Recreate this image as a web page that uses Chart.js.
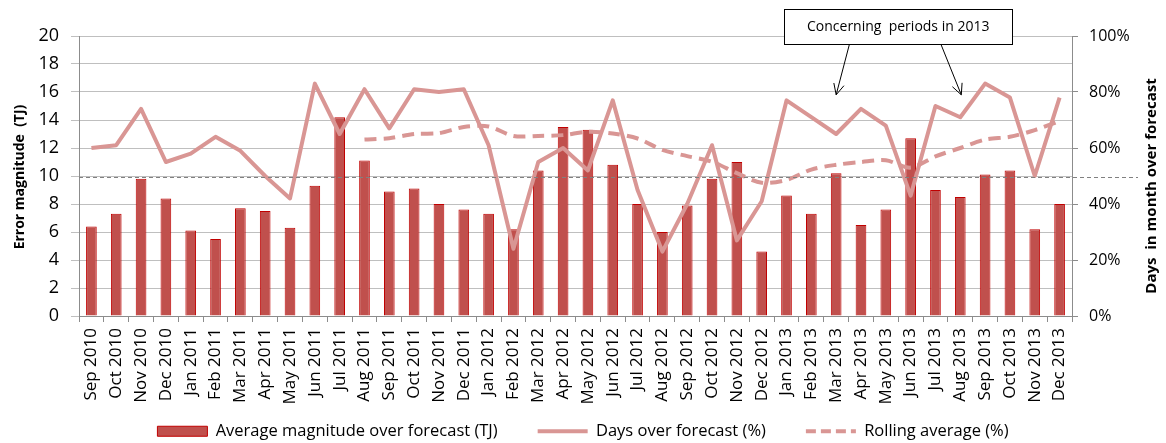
<!DOCTYPE html>
<html>
<head>
<meta charset="utf-8">
<script src="https://cdn.jsdelivr.net/npm/chart.js@4"></script>
<style>
  html, body { margin: 0; padding: 0; background: #fff; }
</style>
</head>
<body>
<canvas id="chart" width="1166" height="443"></canvas>
<script>
// ===============================
// DATA
// ===============================
const months = [
  "Sep 2010", "Oct 2010", "Nov 2010", "Dec 2010",
  "Jan 2011", "Feb 2011", "Mar 2011", "Apr 2011", "May 2011", "Jun 2011",
  "Jul 2011", "Aug 2011", "Sep 2011", "Oct 2011", "Nov 2011", "Dec 2011",
  "Jan 2012", "Feb 2012", "Mar 2012", "Apr 2012", "May 2012", "Jun 2012",
  "Jul 2012", "Aug 2012", "Sep 2012", "Oct 2012", "Nov 2012", "Dec 2012",
  "Jan 2013", "Feb 2013", "Mar 2013", "Apr 2013", "May 2013", "Jun 2013",
  "Jul 2013", "Aug 2013", "Sep 2013", "Oct 2013", "Nov 2013", "Dec 2013"
];

// average magnitude over forecast (TJ)
const magnitude = [
  6.4, 7.3, 9.8, 8.4,
  6.1, 5.5, 7.7, 7.5, 6.3, 9.3,
  14.2, 11.1, 8.9, 9.1, 8.0, 7.6,
  7.3, 6.2, 10.4, 13.5, 13.3, 10.8,
  8.0, 6.0, 7.9, 9.8, 11.0, 4.6,
  8.6, 7.3, 10.2, 6.5, 7.6, 12.7,
  9.0, 8.5, 10.1, 10.4, 6.2, 8.0
];

// days in month over forecast (%)
const daysOver = [
  60, 61, 74, 55,
  58, 64, 59, 50, 42, 83,
  65, 81, 67, 81, 80, 81,
  61, 24, 55, 60, 52, 77,
  45, 23, 40, 61, 27, 41,
  77, 71, 65, 74, 68, 43,
  75, 71, 83, 78, 50, 78
];

// 12 month rolling average of daysOver (%)
const rolling = [
  null, null, null, null,
  null, null, null, null, null, null,
  null, 63, 63.5, 65, 65.3, 67.5,
  67.7, 64.3, 64.3, 64.6, 65.8, 65.2,
  63.4, 59.3, 57.1, 55.1, 51, 47.6,
  48.6, 52.3, 54, 55, 55.6, 53,
  57, 60, 63, 64, 66.4, 69.6
];

const threshold = 9.9;
const leftTicks = [0, 2, 4, 6, 8, 10, 12, 14, 16, 18, 20];
const rightTicks = [0, 20, 40, 60, 80, 100];

const note = "Concerning  periods in 2013";
const noteMonths = ["Mar 2013", "Aug 2013"];

// ===============================
// STYLE
// ===============================
const FONT = "'Open Sans'";
const BAR_FILL = "#C0504D";
const BAR_EDGE = "#C00000";
const LINE = "#D99694";
const GRID = "#BFBFBF";
const AXIS = "#8C8C8C";

Chart.defaults.font.family = FONT;
Chart.defaults.color = "#000";

// axis titles, threshold line and the 2013 callout
const extras = {
  id: "extras",
  afterLayout(chart) {
    // let the rotated month labels run past the axis box
    chart.scales.x.bottom = chart.height;
  },
  afterDatasetsDraw(chart) {
    const { ctx, chartArea, scales } = chart;
    const y = Math.round(scales.y.getPixelForValue(threshold)) + 0.5;
    ctx.save();
    ctx.strokeStyle = "#808080";
    ctx.lineWidth = 1;
    ctx.setLineDash([4, 3]);
    ctx.beginPath();
    ctx.moveTo(chartArea.left, y);
    ctx.lineTo(chartArea.right + 66, y);
    ctx.stroke();
    ctx.restore();
  },
  afterDraw(chart) {
    const { ctx, scales } = chart;

    // axis titles (both read bottom to top)
    const vtitle = (text, size, x, y) => {
      ctx.save();
      ctx.fillStyle = "#000";
      ctx.font = `bold ${size}px ${FONT}`;
      ctx.textAlign = "center";
      ctx.textBaseline = "middle";
      ctx.translate(x, y);
      ctx.rotate(-Math.PI / 2);
      ctx.fillText(text, 0, 0);
      ctx.restore();
    };
    vtitle("Error magnitude  (TJ)", 14, 20, 177);
    vtitle("Days  in month over forecast", 15, 1152, 186);

    // callout box
    const xa = scales.x.getPixelForValue(noteMonths[0]);
    const xb = scales.x.getPixelForValue(noteMonths[1]);
    const cx = (xa + xb) / 2;
    const boxW = 228, boxH = 35, boxTop = 9;
    const boxLeft = Math.round(cx - boxW / 2) + 0.5;
    ctx.save();
    ctx.fillStyle = "#fff";
    ctx.strokeStyle = "#000";
    ctx.lineWidth = 1;
    ctx.fillRect(boxLeft, boxTop + 0.5, boxW, boxH);
    ctx.strokeRect(boxLeft, boxTop + 0.5, boxW, boxH);
    ctx.fillStyle = "#000";
    ctx.font = `14px ${FONT}`;
    ctx.textAlign = "center";
    ctx.textBaseline = "middle";
    ctx.fillText(note, cx, boxTop + boxH / 2 + 1);

    // arrows down to the two months
    const tipY = scales.y1.getPixelForValue(79);
    const arrow = (x0, y0, x1, y1) => {
      ctx.beginPath();
      ctx.moveTo(x0, y0);
      ctx.lineTo(x1, y1);
      const a = Math.atan2(y1 - y0, x1 - x0);
      const len = 12, spread = 0.45;
      ctx.moveTo(x1 - len * Math.cos(a - spread), y1 - len * Math.sin(a - spread));
      ctx.lineTo(x1, y1);
      ctx.lineTo(x1 - len * Math.cos(a + spread), y1 - len * Math.sin(a + spread));
      ctx.stroke();
    };
    arrow(cx - 49, boxTop + boxH + 1, xa, tipY);
    arrow(cx + 43, boxTop + boxH + 1, xb + 1, tipY);
    ctx.restore();
  }
};

// legend swatches take the dataset's own stroke, width and dash
function legendLabels(chart) {
  const items = Chart.defaults.plugins.legend.labels.generateLabels(chart);
  return items.map(item => {
    const ds = chart.data.datasets[item.datasetIndex];
    item.fillStyle = ds.backgroundColor;
    item.strokeStyle = ds.borderColor;
    item.lineWidth = ds.borderWidth;
    item.lineDash = ds.type === "line" ? (ds.legendDash || []) : [];
    item.lineCap = "butt";
    return item;
  });
}

// ===============================
// CHART
// ===============================
new Chart(document.getElementById("chart"), {
  data: {
    labels: months,
    datasets: [
      {
        type: "bar",
        label: "Average magnitude over forecast (TJ)",
        data: magnitude,
        yAxisID: "y",
        backgroundColor: BAR_FILL,
        borderColor: BAR_EDGE,
        borderWidth: 1,
        categoryPercentage: 1,
        barPercentage: 0.43,
        pointStyle: "rect",
        order: 3
      },
      {
        type: "line",
        label: "Days over forecast (%)",
        data: daysOver,
        yAxisID: "y1",
        borderColor: LINE,
        backgroundColor: LINE,
        borderWidth: 4,
        borderJoinStyle: "round",
        pointRadius: 0,
        pointStyle: "line",
        tension: 0,
        order: 2
      },
      {
        type: "line",
        label: "Rolling average (%)",
        data: rolling,
        yAxisID: "y1",
        borderColor: LINE,
        backgroundColor: LINE,
        borderWidth: 4,
        borderDash: [12, 7],
        legendDash: [10, 5],
        pointRadius: 0,
        pointStyle: "line",
        tension: 0.3,
        order: 1
      }
    ]
  },
  options: {
    responsive: false,
    animation: false,
    layout: { padding: { top: 36, left: 0, right: 0, bottom: 0 } },
    plugins: {
      tooltip: { enabled: false },
      legend: {
        position: "bottom",
        maxHeight: 60,
        labels: {
          usePointStyle: true,
          pointStyleWidth: 50,
          boxHeight: 10,
          padding: 40,
          color: "#000",
          font: { size: 16.5 },
          generateLabels: legendLabels,
          sort: (a, b) => a.datasetIndex - b.datasetIndex
        }
      }
    },
    scales: {
      x: {
        offset: true,
        grid: { display: true, drawOnChartArea: false, offset: true, color: AXIS, tickLength: 6 },
        border: { color: AXIS },
        ticks: {
          minRotation: 90,
          maxRotation: 90,
          autoSkip: false,
          padding: 6,
          font: { size: 17 },
          color: "#000"
        },
        afterFit: s => { s.height = 67; }
      },
      y: {
        position: "left",
        min: 0,
        max: 20,
        afterBuildTicks: s => { s.ticks = leftTicks.map(v => ({ value: v })); },
        grid: { color: GRID, tickLength: 8 },
        border: { color: AXIS },
        ticks: { padding: 12, font: { size: 18 }, color: "#000" },
        afterFit: s => { s.width = 79; }
      },
      y1: {
        position: "right",
        min: 0,
        max: 100,
        afterBuildTicks: s => { s.ticks = rightTicks.map(v => ({ value: v })); },
        grid: { drawOnChartArea: false, color: AXIS, tickLength: 6 },
        border: { color: AXIS },
        ticks: {
          padding: 11,
          font: { size: 16 },
          color: "#000",
          callback: v => v + "%"
        },
        afterFit: s => { s.width = 94; }
      }
    }
  },
  plugins: [extras]
});
</script>
</body>
</html>
